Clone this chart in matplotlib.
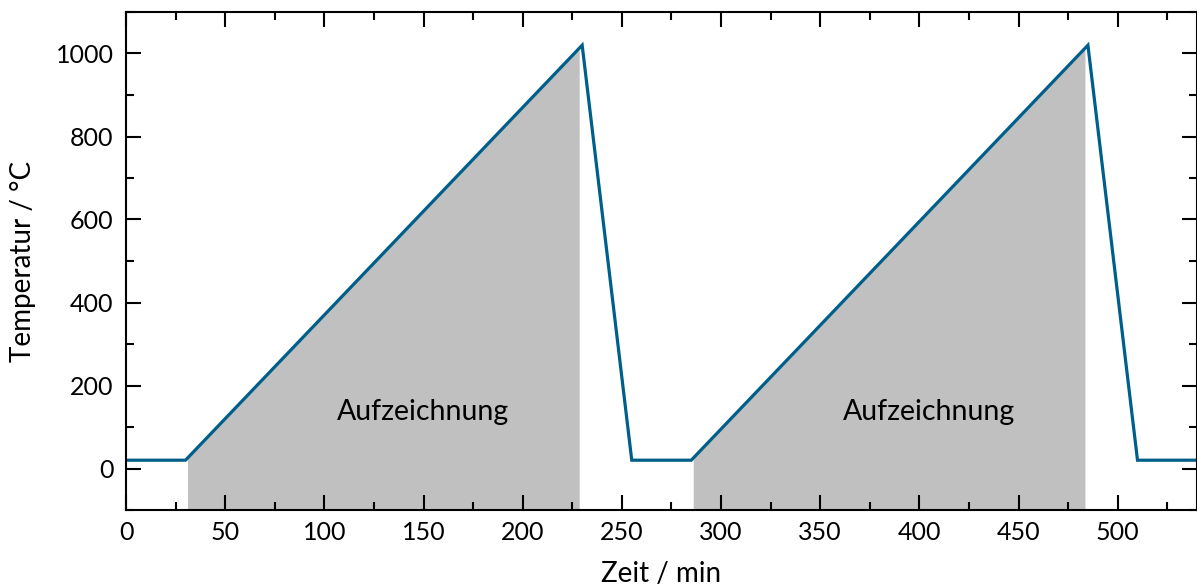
import numpy as np
import matplotlib.pyplot as plt
from matplotlib.ticker import MultipleLocator

plt.rcParams['font.family'] = ['Lato', 'DejaVu Sans']

# temperature program: two heating ramps with cooling in between
zeit = [0, 30, 230, 255, 285, 485, 510, 540]
temp = [20, 20, 1020, 20, 20, 1020, 20, 20]

# recording windows (start, end) and label positions
fenster = [(31, 228.5), (286, 483.5)]
label_x = [150, 405]
label_y = 135
label_text = "Aufzeichnung"

fig = plt.figure(figsize=(11.97, 5.87), dpi=100)
ax = fig.add_axes([126 / 1197, 1 - 510 / 587, 1071 / 1197, 498 / 587])

for a, b in fenster:
    xs = np.linspace(a, b, 200)
    ax.fill_between(xs, -100, np.interp(xs, zeit, temp), color='#c0c0c0', lw=0)

ax.plot(zeit, temp, color='#005f8a', lw=2.3, solid_joinstyle='miter')

for x in label_x:
    ax.text(x, label_y, label_text, ha='center', va='center', fontsize=20.5)

ax.set_xlim(0, 540)
ax.set_ylim(-100, 1100)
ax.xaxis.set_major_locator(MultipleLocator(50))
ax.xaxis.set_minor_locator(MultipleLocator(25))
ax.yaxis.set_major_locator(MultipleLocator(200))
ax.yaxis.set_minor_locator(MultipleLocator(100))
ax.tick_params(which='both', direction='in', top=True, right=True, width=1.5, labelsize=18)
ax.tick_params(which='major', length=11)
ax.tick_params(which='minor', length=6)
ax.tick_params(axis='x', pad=8)
ax.tick_params(axis='y', pad=9)
for s in ax.spines.values():
    s.set_linewidth(1.5)

ax.set_xlabel("Zeit / min", fontsize=20, labelpad=12)
ax.set_ylabel("Temperatur / °C", fontsize=20, labelpad=14)

fig.savefig("out.png", dpi=100)
